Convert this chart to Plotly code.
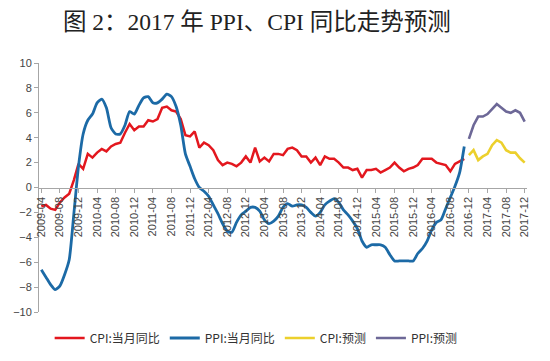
import plotly.graph_objects as go

# ---- data ----
months = [f"{y}-{m:02d}" for y in range(2009, 2018) for m in range(1, 13)]
months = months[months.index("2009-04"):months.index("2017-12") + 1]
hist_months = months[:months.index("2016-11") + 1]
fc_months = months[months.index("2016-12"):]

cpi_hist = [-1.5, -1.4, -1.7, -1.8, -1.2, -0.8, -0.5, 0.6, 1.9,
            1.5, 2.7, 2.4, 2.8, 3.1, 2.9, 3.3, 3.5, 3.6, 4.4, 5.1, 4.6,
            4.9, 4.9, 5.4, 5.3, 5.5, 6.4, 6.5, 6.2, 6.1, 5.5, 4.2, 4.1,
            4.5, 3.2, 3.6, 3.4, 3.0, 2.2, 1.8, 2.0, 1.9, 1.7, 2.0, 2.5,
            2.0, 3.2, 2.1, 2.4, 2.1, 2.7, 2.7, 2.6, 3.1, 3.2, 3.0, 2.5,
            2.5, 2.0, 2.4, 1.8, 2.5, 2.3, 2.3, 2.0, 1.6, 1.6, 1.4, 1.5,
            0.8, 1.4, 1.4, 1.5, 1.2, 1.4, 1.6, 2.0, 1.6, 1.3, 1.5, 1.6,
            1.8, 2.3, 2.3, 2.3, 2.0, 1.9, 1.8, 1.3, 1.9, 2.1, 2.3]

ppi_hist = [-6.6, -7.2, -7.8, -8.2, -7.9, -7.0, -5.8, -2.1, 1.7,
            4.3, 5.4, 5.9, 6.8, 7.1, 6.4, 4.8, 4.3, 4.3, 5.0, 6.1, 5.9,
            6.6, 7.2, 7.3, 6.8, 6.8, 7.1, 7.5, 7.3, 6.5, 5.0, 2.7, 1.7,
            0.7, 0.0, -0.3, -0.7, -1.4, -2.1, -2.9, -3.5, -3.6, -2.8, -2.2, -1.9,
            -1.6, -1.6, -1.9, -2.6, -2.9, -2.7, -2.3, -1.6, -1.3, -1.5, -1.4, -1.4,
            -1.6, -2.0, -2.3, -2.0, -1.4, -1.1, -0.9, -1.2, -1.8, -2.2, -2.7, -3.3,
            -4.3, -4.8, -4.6, -4.6, -4.6, -4.8, -5.4, -5.9, -5.9, -5.9, -5.9, -5.9,
            -5.3, -4.9, -4.3, -3.4, -2.8, -2.6, -1.7, -0.8, 0.1, 1.2, 3.3]

cpi_fc = [2.6, 3.0, 2.2, 2.5, 2.7, 3.4, 3.8, 3.6, 3.0, 2.8, 2.8, 2.35, 2.0]
ppi_fc = [3.9, 5.0, 5.7, 5.7, 5.9, 6.3, 6.7, 6.4, 6.1, 6.0, 6.2, 6.0, 5.3]

tick_labels = months[::4]
y_ticks = list(range(-10, 11, 2))

# ---- figure ----
fig = go.Figure()
fig.add_trace(go.Scatter(x=hist_months, y=cpi_hist, mode="lines", name="CPI:当月同比",
                         line=dict(color="#e3171e", width=2.5)))
fig.add_trace(go.Scatter(x=hist_months, y=ppi_hist, mode="lines", name="PPI:当月同比",
                         line=dict(color="#1c6aa6", width=2.8, shape="spline", smoothing=0.6)))
fig.add_trace(go.Scatter(x=fc_months, y=cpi_fc, mode="lines", name="CPI:预测",
                         line=dict(color="#ecd02c", width=2.6)))
fig.add_trace(go.Scatter(x=fc_months, y=ppi_fc, mode="lines", name="PPI:预测",
                         line=dict(color="#6d6897", width=2.6)))

tick_font = dict(family="Liberation Sans, Arial, sans-serif", size=11, color="#444444")

# the page body adds an 8px offset; size the figure so it fits the 550x361 window.
# Paper area reaches near the bottom; the y-axis domain leaves room for the legend
W, H = 542, 353
mt, mb = 55, 2
plot_bottom = 304            # pixel row of y = -10 inside the figure
paper_h = H - mt - mb
dom0 = (H - mb - plot_bottom) / paper_h
zero_pos = (dom0 + 1) / 2
legend_y = (H - mb - 330) / paper_h

fig.update_layout(
    width=W, height=H,
    margin=dict(l=31, r=23, t=mt, b=mb),
    paper_bgcolor="white", plot_bgcolor="white",
    title=dict(text="图 2：2017 年 PPI、CPI 同比走势预测",
               font=dict(family="Liberation Serif, Noto Sans CJK SC, serif", size=23.5, color="#222222"),
               x=0.459, xanchor="center", xref="container", y=0.962, yanchor="middle", yref="container"),
    showlegend=True,
    legend=dict(orientation="h", x=0.445, xanchor="center", y=legend_y, yanchor="middle",
                font=dict(family="Noto Sans CJK SC, sans-serif", size=12, color="#333333"),
                itemwidth=30, tracegroupgap=0, bgcolor="rgba(0,0,0,0)"),
    xaxis=dict(type="category", categoryorder="array", categoryarray=months,
               range=[-0.5, len(months) - 0.5],
               tickmode="array", tickvals=tick_labels, ticktext=tick_labels,
               tickangle=-90, tickfont=tick_font,
               anchor="free", position=zero_pos, automargin=False,
               showline=True, linecolor="#a6a6a6", linewidth=1,
               ticks="outside", ticklen=4, tickcolor="#a6a6a6",
               showgrid=False, zeroline=False),
    yaxis=dict(range=[-10, 10], domain=[dom0, 1], tickvals=y_ticks, tickfont=tick_font,
               automargin=False,
               showline=True, linecolor="#a6a6a6", linewidth=1,
               ticks="outside", ticklen=4, tickcolor="#a6a6a6",
               showgrid=False, zeroline=False),
)

fig.write_html("out.html")
